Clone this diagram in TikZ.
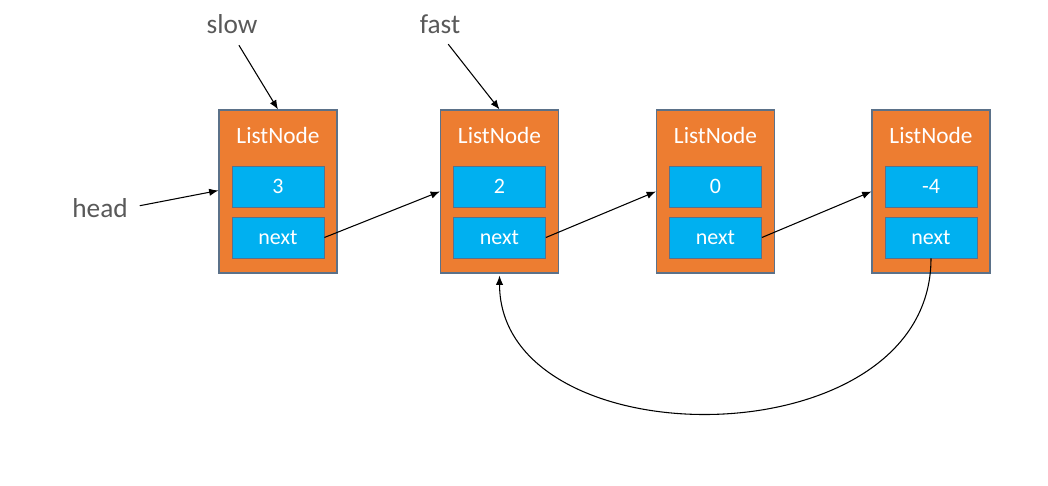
\documentclass[tikz,border=0pt]{standalone}
\usepackage{fontspec}
\setmainfont{Carlito}
\usetikzlibrary{arrows.meta}
\definecolor{orng}{HTML}{ED7D31}
\definecolor{bblue}{HTML}{00B0F0}
\definecolor{edg}{HTML}{5B7189}
\definecolor{lbl}{HTML}{595959}
\tikzset{
  outer/.style={draw=edg, line width=0.8pt, fill=orng, minimum width=88.5pt, minimum height=122.25pt, inner sep=0pt},
  inner/.style={draw=edg, line width=0.6pt, fill=bblue, minimum width=69pt, minimum height=30.75pt, inner sep=0pt, text=white, font=\fontsize{16.5}{19}\selectfont},
  title/.style={text=white, font=\fontsize{17.5}{21}\selectfont, inner sep=0pt},
  lab/.style={text=lbl, font=\fontsize{20.5}{24}\selectfont, inner sep=0pt},
  arr/.style={draw=black, line width=0.8pt, -{Latex[length=7pt,width=5.5pt]}}
}
\begin{document}
\begin{tikzpicture}[x=0.75pt,y=-0.75pt]
\useasboundingbox (0,0) rectangle (1048,485);
\foreach \i/\x/\v in {1/278/3,2/499.5/2,3/715.5/0,4/931/-4}{
  \node[outer] (b\i) at (\x,191.5) {};
  \node[title] (t\i) at (\x,135) {ListNode};
  \node[inner] (v\i) at (\x,186.5) {\v};
  \node[inner] (n\i) at (\x,237.5) {next};
}
\node[lab] (slow) at (232,24) {slow};
\node[lab] (fast) at (440,24) {fast};
\node[lab] (head) at (100,208) {head};
\draw[arr, shorten <=10pt] (slow.south) -- (b1.north);
\draw[arr, shorten <=10pt] (fast.south) -- (b2.north);
\draw[arr, shorten <=9pt] (head.east) -- ([yshift=0.75pt]b1.west);
\draw[arr] (n1.east) -- (b2.west);
\draw[arr] (n2.east) -- (b3.west);
\draw[arr] (n3.east) -- (b4.west);
\draw[arr] (n4.south) .. controls (931,462) and (500,462) .. ([yshift=-1.5pt]b2.south);
\end{tikzpicture}
\end{document}
